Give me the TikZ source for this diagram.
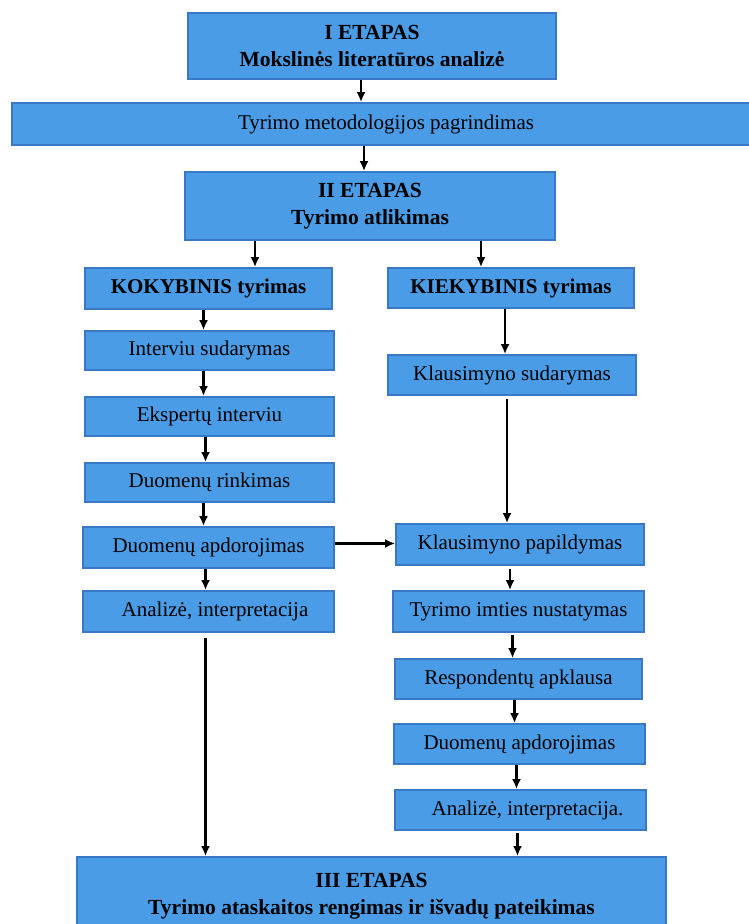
\documentclass[tikz,border=0pt]{standalone}
\usepackage{fontspec}
\setmainfont{Liberation Serif}
\usepackage{tikz}
\usepackage{xcolor}
\usetikzlibrary{arrows.meta}
\definecolor{boxfill}{HTML}{4A9CE6}
\definecolor{boxline}{HTML}{3A78C6}
\tikzset{
    stage-box/.style = {draw=boxline, fill=boxfill, line width=1.8pt, rectangle, inner sep=0pt, align=center, font=\fontsize{21.5}{27}\selectfont\bfseries},
    step-box/.style = {draw=boxline, fill=boxfill, line width=1.8pt, rectangle, inner sep=0pt, font=\fontsize{21}{24}\selectfont},
    flow-arrow/.style = {-{Latex[length=10pt,width=9pt]}, line width=2.2pt, black},
}

\begin{document}
\begin{tikzpicture}[x=1pt, y=-1pt]
\useasboundingbox (0,0) rectangle (748,924);
% etapai
\node [stage-box, minimum width=368, minimum height=66] (etapas1) at (372,46) {I ETAPAS\\Mokslinės literatūros analizė};
\node [step-box, minimum width=748, minimum height=42] (metodologija) at (386,124) {Tyrimo metodologijos pagrindimas};
\node [stage-box, minimum width=370, minimum height=68] (etapas2) at (370,206) {II ETAPAS\\Tyrimo atlikimas};
\node [stage-box, minimum width=589, minimum height=78] (etapas3) at (371.5,896) {III ETAPAS\\Tyrimo ataskaitos rengimas ir išvadų pateikimas};

% kokybinis tyrimas
\node [step-box, minimum width=247, minimum height=41, font=\fontsize{21}{24}\selectfont\bfseries] (kokyb) at (208.5,288.5) {KOKYBINIS tyrimas};
\node [step-box, minimum width=249, minimum height=39] (interviu) at (209.5,350.5) {Interviu sudarymas};
\node [step-box, minimum width=249, minimum height=39] (ekspertai) at (209.5,416.5) {Ekspertų interviu};
\node [step-box, minimum width=249, minimum height=39] (rinkimas) at (209.5,482.5) {Duomenų rinkimas};
\node [step-box, minimum width=251, minimum height=41] (apdorL) at (208.5,547.5) {Duomenų apdorojimas};
\node [step-box, minimum width=251, minimum height=41] (analizeL) at (208.5,611.5) {\hspace{13pt}Analizė, interpretacija};

% kiekybinis tyrimas
\node [step-box, minimum width=246, minimum height=40, font=\fontsize{21}{24}\selectfont\bfseries] (kiekyb) at (511,288) {KIEKYBINIS tyrimas};
\node [step-box, minimum width=248, minimum height=40] (klSudarymas) at (512,375) {Klausimyno sudarymas};
\node [step-box, minimum width=248, minimum height=41] (klPapildymas) at (520,544.5) {Klausimyno papildymas};
\node [step-box, minimum width=251, minimum height=41] (imtis) at (518.5,611.5) {Tyrimo imties nustatymas};
\node [step-box, minimum width=247, minimum height=40] (apklausa) at (518.5,679) {Respondentų apklausa};
\node [step-box, minimum width=251, minimum height=40] (apdorR) at (519.5,744) {Duomenų apdorojimas};
\node [step-box, minimum width=251, minimum height=40] (analizeR) at (520.5,810) {\hspace{14pt}Analizė, interpretacija.};

% rodyklės
\draw [flow-arrow] ([xshift=-11]etapas1.south) -- ([xshift=-11]etapas1.south |- metodologija.north);
\draw [flow-arrow] ([xshift=-6]etapas2.north |- metodologija.south) -- ([xshift=-6]etapas2.north);
\draw [flow-arrow] ([xshift=-115]etapas2.south) -- ([xshift=-115]etapas2.south |- kokyb.north);
\draw [flow-arrow] ([xshift=111]etapas2.south) -- ([xshift=111]etapas2.south |- kiekyb.north);
\draw [flow-arrow] ([xshift=-5]kokyb.south) -- ([xshift=-5]kokyb.south |- interviu.north);
\draw [flow-arrow] ([xshift=-6]interviu.south) -- ([xshift=-6]interviu.south |- ekspertai.north);
\draw [flow-arrow] ([xshift=-4]ekspertai.south) -- ([xshift=-4]ekspertai.south |- rinkimas.north);
\draw [flow-arrow] ([xshift=-6]rinkimas.south) -- ([xshift=-6]rinkimas.south |- apdorL.north);
\draw [flow-arrow] ([xshift=-3]apdorL.south) -- ([xshift=-3]apdorL.south |- analizeL.north);
\draw [flow-arrow] ([xshift=-3,yshift=-5]analizeL.south) -- ([xshift=-3]analizeL.south |- etapas3.north);
\draw [flow-arrow] ([yshift=4]apdorL.east) -- ([yshift=4]apdorL.east -| klPapildymas.west);
\draw [flow-arrow] ([xshift=-6]kiekyb.south) -- ([xshift=-6]kiekyb.south |- klSudarymas.north);
\draw [flow-arrow] ([xshift=-5,yshift=-3]klSudarymas.south) -- ([xshift=-5]klSudarymas.south |- klPapildymas.north);
\draw [flow-arrow] ([xshift=-10,yshift=-3]klPapildymas.south) -- ([xshift=-10]klPapildymas.south |- imtis.north);
\draw [flow-arrow] ([xshift=-6,yshift=-2]imtis.south) -- ([xshift=-6]imtis.south |- apklausa.north);
\draw [flow-arrow] ([xshift=-4]apklausa.south) -- ([xshift=-4]apklausa.south |- apdorR.north);
\draw [flow-arrow] ([xshift=-3]apdorR.south) -- ([xshift=-3]apdorR.south |- analizeR.north);
\draw [flow-arrow] ([xshift=-3,yshift=-2]analizeR.south) -- ([xshift=-3]analizeR.south |- etapas3.north);
\end{tikzpicture}
\end{document}
